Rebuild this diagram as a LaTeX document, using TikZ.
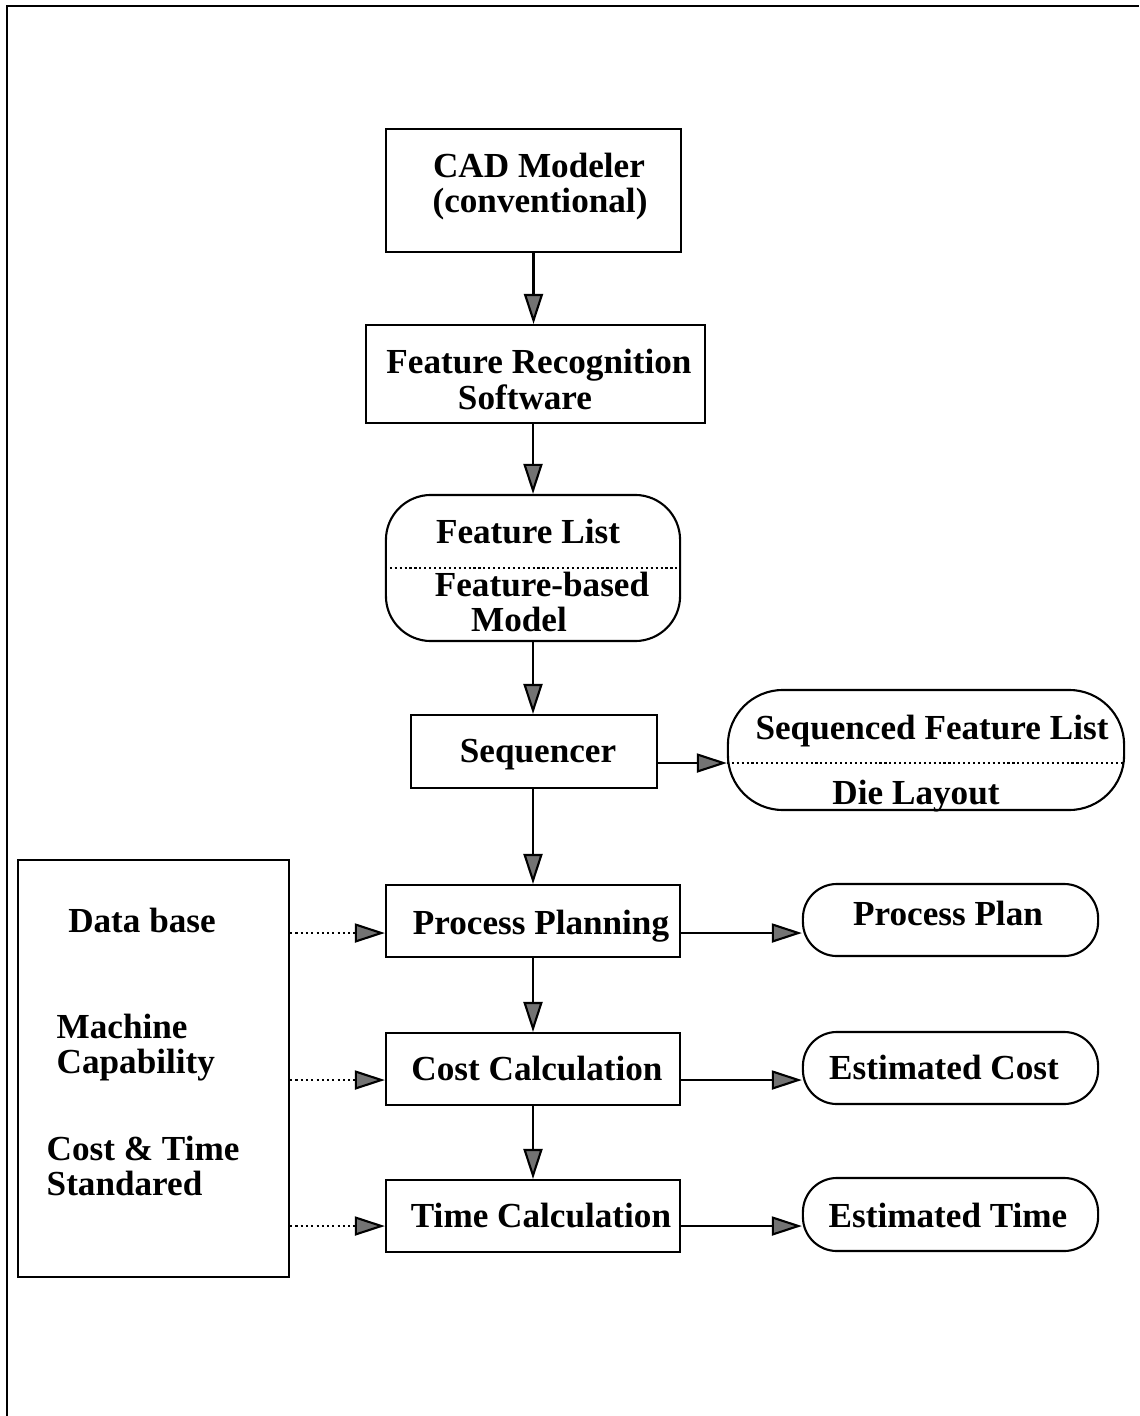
\documentclass[tikz,border=0pt]{standalone}
\usepackage{fontspec}
\setmainfont{Liberation Serif}
\usetikzlibrary{arrows.meta}
\tikzset{
  box/.style={draw, line width=0.6pt, inner sep=0pt},
  rbox/.style={box, rounded corners=#1},
  lbl/.style={anchor=base, font=\bfseries\fontsize{10}{12}\selectfont, inner sep=0pt},
  lbll/.style={lbl, anchor=base west},
  flow/.style={line width=0.6pt, -{Triangle[length=0.3cm, width=0.19cm, fill=black!55]}},
  feed/.style={flow, dash pattern=on 0.6pt off 0.9pt},
  divider/.style={line width=0.5pt, dash pattern=on 0.6pt off 0.8pt},
  frame/.style={line width=0.7pt},
}
\begin{document}
\begin{tikzpicture}[x=0.01cm, y=-0.01cm]
\useasboundingbox (0,0) rectangle (1139,1416);

% page frame (top and left edges)
\draw[frame] (7,1416) -- (7,6) -- (1139,6);

% main chain of boxes
\node[box, minimum width=2.95cm, minimum height=1.23cm] (cad) at (533.5,190.5) {};
\node[box, minimum width=3.39cm, minimum height=0.98cm] (frs) at (535.5,374) {};
\node[rbox=0.45cm, minimum width=2.94cm, minimum height=1.46cm] (fl) at (533,568) {};
\node[box, minimum width=2.46cm, minimum height=0.73cm] (seq) at (534,751.5) {};
\node[rbox=0.55cm, minimum width=3.96cm, minimum height=1.20cm] (sfl) at (926,750) {};
\node[box, minimum width=2.94cm, minimum height=0.72cm] (pp) at (533,921) {};
\node[rbox=0.34cm, minimum width=2.95cm, minimum height=0.72cm] (plan) at (950.5,920) {};
\node[box, minimum width=2.94cm, minimum height=0.72cm] (cc) at (533,1069) {};
\node[rbox=0.34cm, minimum width=2.95cm, minimum height=0.72cm] (ecost) at (950.5,1068) {};
\node[box, minimum width=2.94cm, minimum height=0.72cm] (tc) at (533,1216) {};
\node[rbox=0.34cm, minimum width=2.95cm, minimum height=0.73cm] (etime) at (950.5,1214.5) {};
\node[box, minimum width=2.71cm, minimum height=4.17cm] (db) at (153.5,1068.5) {};

% dotted dividers of the two-part boxes
\draw[divider] (fl.west) -- (fl.east);
\draw[divider] ([yshift=-0.13cm]sfl.west) -- ([yshift=-0.13cm]sfl.east);

% labels
\node[lbl] (tcad1) at (539,178) {CAD Modeler};
\node[lbl] (tcad2) at (540,213) {(conventional)};
\node[lbl] (tfrs1) at (539,374) {Feature Recognition};
\node[lbl] (tfrs2) at (525,410) {Software};
\node[lbl] (tfl1) at (528,543) {Feature List};
\node[lbl] (tfl2) at (542,596) {Feature-based};
\node[lbl] (tfl3) at (519,631) {Model};
\node[lbl] (tseq) at (538,762) {Sequencer};
\node[lbl] (tsfl1) at (932,739) {Sequenced Feature List};
\node[lbl] (tsfl2) at (916,804) {Die Layout};
\node[lbl] (tpp) at (541,934) {Process Planning};
\node[lbl] (tplan) at (948,925) {Process Plan};
\node[lbl] (tcc) at (537,1080) {Cost Calculation};
\node[lbl] (tecost) at (944,1079) {Estimated Cost};
\node[lbl] (ttc) at (541,1227) {Time Calculation};
\node[lbl] (tetime) at (948,1227) {Estimated Time};
\node[lbl] (tdb1) at (142,932) {Data base};
\node[lbll] (tdb2) at (56,1038) {Machine};
\node[lbll] (tdb3) at (56,1073) {Capability};
\node[lbll] (tdb4) at (46,1160) {Cost \& Time};
\node[lbll] (tdb5) at (46,1195) {Standared};

% vertical flow
\draw[flow] (cad.south) -- (cad.south |- frs.north);
\draw[flow] (fl.north |- frs.south) -- (fl.north);
\draw[flow] (fl.south) -- (fl.south |- seq.north);
\draw[flow] (pp.north |- seq.south) -- (pp.north);
\draw[flow] (pp.south) -- (cc.north);
\draw[flow] (cc.south) -- (tc.north);

% outputs to the right
\coordinate (sflin) at ([yshift=-0.13cm]sfl.west);
\draw[flow] (seq.east |- sflin) -- (sflin);
\coordinate (ppout) at ([yshift=-0.12cm]pp.east);
\draw[flow] (ppout) -- (ppout -| plan.west);
\coordinate (ccout) at ([yshift=-0.11cm]cc.east);
\draw[flow] (ccout) -- (ccout -| ecost.west);
\coordinate (tcout) at ([yshift=-0.10cm]tc.east);
\draw[flow] (tcout) -- (tcout -| etime.west);

% data base feeds
\coordinate (ppin) at ([yshift=-0.12cm]pp.west);
\draw[feed] (db.east |- ppin) -- (ppin);
\coordinate (ccin) at ([yshift=-0.11cm]cc.west);
\draw[feed] (db.east |- ccin) -- (ccin);
\coordinate (tcin) at ([yshift=-0.10cm]tc.west);
\draw[feed] (db.east |- tcin) -- (tcin);
\end{tikzpicture}
\end{document}
